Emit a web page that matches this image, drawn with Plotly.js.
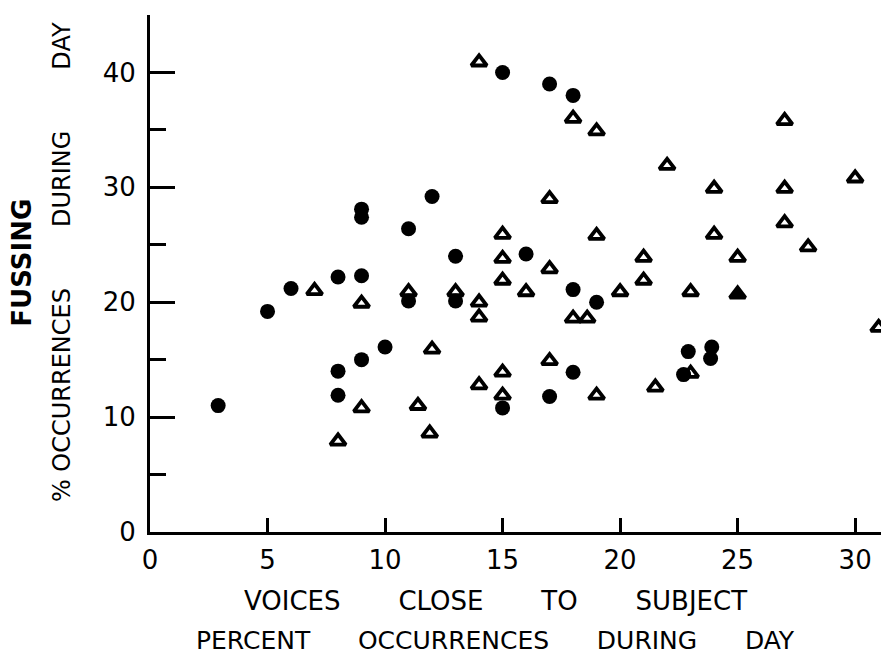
<!DOCTYPE html>
<html>
<head>
<meta charset="utf-8">
<script src="https://cdn.plot.ly/plotly-3.0.1.min.js"></script>
<style>html,body{margin:0;padding:0;background:#fff;}#chart{width:881px;height:654px;}</style>
</head>
<body>
<div id="chart"></div>
<script>
// Filled circles
var circleX = [2.9, 5, 6, 8, 9, 8, 9, 10, 8, 9, 9, 11, 12, 15, 17, 18, 13, 16, 18, 11, 13, 19, 18, 17, 15, 22.9, 23.9, 23.85, 22.7];
var circleY = [11, 19.2, 21.2, 22.2, 22.3, 14, 15, 16.1, 11.9, 28.1, 27.4, 26.4, 29.2, 40, 39, 38, 24, 24.2, 21.1, 20.1, 20.1, 20, 13.9, 11.8, 10.8, 15.7, 16.1, 15.1, 13.7];
// Open triangles
var triX = [7, 9, 9, 8, 14, 18, 19, 17, 15, 19, 15, 17, 15, 11, 13, 16, 20, 14, 14, 18, 18.6, 12, 17, 15, 14, 15, 11.4, 11.9, 19, 22, 24, 27, 30, 27, 28, 24, 21, 25, 21, 23, 31, 23, 21.5, 27];
var triY = [21, 19.9, 10.8, 7.9, 40.9, 36, 34.9, 29, 25.9, 25.8, 23.8, 22.9, 21.9, 20.9, 20.9, 20.9, 20.9, 20, 18.7, 18.6, 18.6, 15.9, 14.9, 13.9, 12.8, 11.9, 11, 8.6, 11.9, 31.9, 29.9, 29.9, 30.8, 26.9, 24.8, 25.9, 23.9, 23.9, 21.9, 20.9, 17.8, 13.8, 12.6, 35.8];
// Filled triangle
var solidTriX = [25];
var solidTriY = [20.7];

var xTicks = [0, 5, 10, 15, 20, 25, 30];
var yTicks = [0, 10, 20, 30, 40];
var xTitle1 = 'VOICES CLOSE TO SUBJECT';
var xTitle2 = 'PERCENT OCCURRENCES DURING DAY';
var yTitle1 = 'FUSSING';
var yTitle2 = '% OCCURRENCES DURING DAY';

function spaced(s, n) { return s.split(' ').join('\u00A0'.repeat(n)); }

var FONT = 'DejaVu Sans';

var traces = [
  { type: 'scatter', mode: 'markers', x: circleX, y: circleY,
    marker: { symbol: 'circle', size: 15, color: '#000', line: { width: 0 } }, cliponaxis: false },
  { type: 'scatter', mode: 'markers', x: triX, y: triY,
    marker: { symbol: 'triangle-up-open', size: 13.5, color: '#000', line: { width: 3.8, color: '#000' } }, cliponaxis: false },
  { type: 'scatter', mode: 'markers', x: solidTriX, y: solidTriY,
    marker: { symbol: 'triangle-up', size: 13.5, color: '#000', line: { width: 3.8, color: '#000' } }, cliponaxis: false }
];

var layout = {
  width: 881, height: 654,
  margin: { l: 150, r: 0, t: 15, b: 122 },
  paper_bgcolor: '#fff', plot_bgcolor: '#fff',
  showlegend: false,
  font: { family: FONT, color: '#000' },
  xaxis: {
    range: [0, 31.1], showgrid: false, zeroline: false,
    showline: true, linewidth: 3, linecolor: '#000',
    ticks: 'inside', ticklen: 14, tickwidth: 3, tickcolor: '#000',
    tickmode: 'array', tickvals: xTicks, ticktext: xTicks.map(String),
    tickfont: { family: FONT, size: 26, color: '#000' },
    ticklabelstandoff: 3
  },
  yaxis: {
    range: [0, 45], showgrid: false, zeroline: false,
    showline: true, linewidth: 3, linecolor: '#000',
    ticks: 'inside', ticklen: 25, tickwidth: 3, tickcolor: '#000',
    tickmode: 'array', tickvals: yTicks, ticktext: yTicks.map(String),
    tickfont: { family: FONT, size: 26, color: '#000' },
    ticklabelstandoff: 6,
    minor: { tickmode: 'array', tickvals: [5, 15, 25, 35, 45], ticks: 'inside', ticklen: 16, tickwidth: 3, tickcolor: '#000', showgrid: false }
  },
  annotations: [
    { text: spaced(xTitle1, 7), xref: 'paper', yref: 'paper', x: 0.472, y: -0.1335,
      xanchor: 'center', yanchor: 'middle', showarrow: false, font: { family: FONT, size: 26, color: '#000' } },
    { text: spaced(xTitle2, 6), xref: 'paper', yref: 'paper', x: 0.4733, y: -0.2089,
      xanchor: 'center', yanchor: 'middle', showarrow: false, font: { family: FONT, size: 25, color: '#000' } },
    { text: yTitle1, xref: 'paper', yref: 'paper', x: -0.1744, y: 0.520, textangle: -90,
      xanchor: 'center', yanchor: 'middle', showarrow: false, font: { family: FONT, size: 26, weight: 'bold', color: '#000' } },
    { text: '%\u00A0' + spaced(yTitle2.slice(2), 8), xref: 'paper', yref: 'paper', x: -0.1204, y: 0.522, textangle: -90,
      xanchor: 'center', yanchor: 'middle', showarrow: false, font: { family: FONT, size: 24, color: '#000' } }
  ]
};

Plotly.newPlot('chart', traces, layout, { staticPlot: true, displayModeBar: false });
</script>
</body>
</html>
